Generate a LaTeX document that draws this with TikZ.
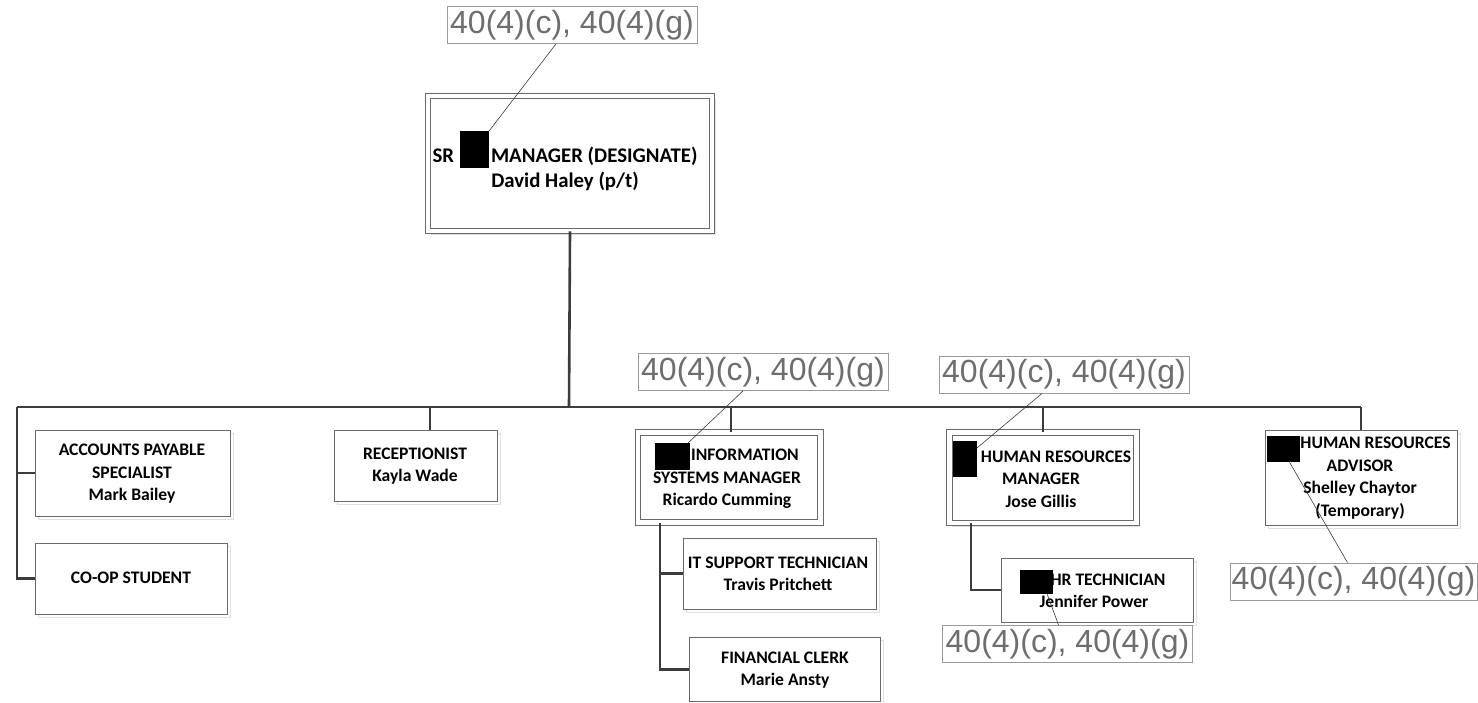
\documentclass[tikz,border=0pt]{standalone}
\usepackage{fontspec}
\setmainfont{Carlito}
\newfontfamily\notefont{Liberation Sans}
\usetikzlibrary{shadows,calc}
\definecolor{linegray}{HTML}{3C3C3C}
\definecolor{boxgray}{HTML}{6A6A6A}
\definecolor{notegray}{HTML}{6E6E6E}
\definecolor{noteedge}{HTML}{9A9A9A}
\begin{document}
\begin{tikzpicture}[x=1pt,y=-1pt,
  post/.style={draw=boxgray, line width=0.9pt, fill=white, inner sep=0pt,
    copy shadow={shadow xshift=3pt, shadow yshift=-3pt, draw=black!12, fill=none}},
  lead/.style={post, double=white, double distance=4.5pt, line width=0.8pt},
  txt/.style={font=\bfseries\fontsize{17.6}{22.5}\selectfont, align=center, inner sep=0pt},
  toptxt/.style={font=\bfseries\fontsize{20.8}{24.5}\selectfont, align=center, inner sep=0pt},
  conn/.style={draw=linegray, line width=2.6pt},
  note/.style={draw=noteedge, line width=0.8pt, fill=white, text=notegray,
    font=\notefont\fontsize{32}{32}\selectfont, inner sep=0pt,
    minimum width=250pt, minimum height=37pt},
  leader/.style={draw=linegray, line width=0.6pt},
  redact/.style={fill=black, inner sep=0pt}
]
\useasboundingbox (0,0) rectangle (1478,703);

% ---- reporting lines ----
\coordinate (bus)  at (569,407);
\coordinate (busL) at (17,407);
\coordinate (busR) at (1361,407);
\coordinate (recdrop) at (430,407);
\coordinate (isdrop)  at (731,407);
\coordinate (hrdrop)  at (1043,407);
\coordinate (isspine) at (660,0);
\coordinate (hrspine) at (971,0);

% ---- position boxes ----
\node[lead, minimum width=284pt, minimum height=135pt] (sr) at (570,163.5) {};
\node[post, minimum width=195pt, minimum height=86pt] (ap) at (132.5,473) {};
\node[post, minimum width=192pt, minimum height=71pt] (coop) at (131,578.5) {};
\node[post, minimum width=163pt, minimum height=71pt] (rec) at (415.5,465.5) {};
\node[lead, minimum width=182.5pt, minimum height=90pt] (ism) at (729.25,477.5) {};
\node[post, minimum width=193pt, minimum height=71pt] (its) at (779.5,573.5) {};
\node[post, minimum width=191pt, minimum height=64pt] (fin) at (784.5,669.5) {};
\node[lead, minimum width=187pt, minimum height=90.5pt] (hrm) at (1043,477.75) {};
\node[post, minimum width=192pt, minimum height=64pt] (hrt) at (1097,590) {};
\node[post, minimum width=192pt, minimum height=95pt] (hra) at (1361,477.5) {};

\draw[conn] (sr.south) -- (bus);
\draw[conn] (busL) -- (busR);
\draw[conn] (recdrop) -- (recdrop |- rec.north);
\draw[conn] (isdrop) -- (isdrop |- ism.north);
\draw[conn] (hrdrop) -- (hrdrop |- hrm.north);
\draw[conn] (busR) -- (busR |- hra.north);
\draw[conn] (busL) |- (coop.west);
\draw[conn] (busL |- ap.west) -- (ap.west);
\draw[conn] (isspine |- ism.south) |- (fin.west);
\draw[conn] (isspine |- its.west) -- (its.west);
\draw[conn] (hrspine |- hrm.south) |- (hrt.west);

% ---- titles and names ----
\node[toptxt] (srT) at (565,169) {SR\hspace{37pt}MANAGER (DESIGNATE)\\David Haley (p/t)};
\node[txt] (apT) at (132,474) {ACCOUNTS PAYABLE\\SPECIALIST\\Mark Bailey};
\node[txt] (coopT) at (131,578) {CO-OP STUDENT};
\node[txt] (recT) at (415,466) {RECEPTIONIST\\Kayla Wade};
\node[txt] (ismT) at (727,479) {\hspace{36pt}INFORMATION\\SYSTEMS MANAGER\\Ricardo Cumming};
\node[txt] (itsT) at (778,574) {IT SUPPORT TECHNICIAN\\Travis Pritchett};
\node[txt] (finT) at (785,670) {FINANCIAL CLERK\\Marie Ansty};
\node[txt] (hrmT) at (1041,479) {\hspace{30pt}HUMAN RESOURCES\\MANAGER\\Jose Gillis};
\node[txt] (hrtT) at (1094,591) {\hspace{28pt}HR TECHNICIAN\\Jennifer Power};
\node[txt] (hraT) at (1360,478) {\hspace{31pt}HUMAN RESOURCES\\ADVISOR\\Shelley Chaytor\\(Temporary)};

% ---- notes ----
\node[note] (n0) at (572,25) {40(4)(c), 40(4)(g)};
\node[note] (n1) at (763,372) {40(4)(c), 40(4)(g)};
\node[note] (n2) at (1064,374.5) {40(4)(c), 40(4)(g)};
\node[note] (n3) at (1067.5,644) {40(4)(c), 40(4)(g)};
\node[note, minimum width=247pt] (n4) at (1353.5,581.5) {40(4)(c), 40(4)(g)};

% ---- blacked-out fields ----
\node[redact, minimum width=29pt, minimum height=37pt] (r0) at (474.5,149.5) {};
\node[redact, minimum width=35pt, minimum height=27pt] (r1) at (672.5,456.5) {};
\node[redact, minimum width=24pt, minimum height=36pt] (r2) at (965,459) {};
\node[redact, minimum width=33pt, minimum height=24pt] (r3) at (1036.5,582) {};
\node[redact, minimum width=33pt, minimum height=26pt] (r4) at (1283.5,449) {};

\draw[leader] ($(n0.south)+(-16,0)$) -- (r0.north east);
\draw[leader] ($(n1.south)+(-20,0)$) -- ($(r1.north east)+(-2,0)$);
\draw[leader] ($(n2.south)+(-22,0)$) -- ($(r2.north east)+(0,7)$);
\draw[leader] ($(n3.north)+(-9,0)$) -- ($(r3.south east)+(-6,0)$);
\draw[leader] ($(n4.north)+(-6,0)$) -- ($(r4.south)+(6,0)$);
\end{tikzpicture}
\end{document}
